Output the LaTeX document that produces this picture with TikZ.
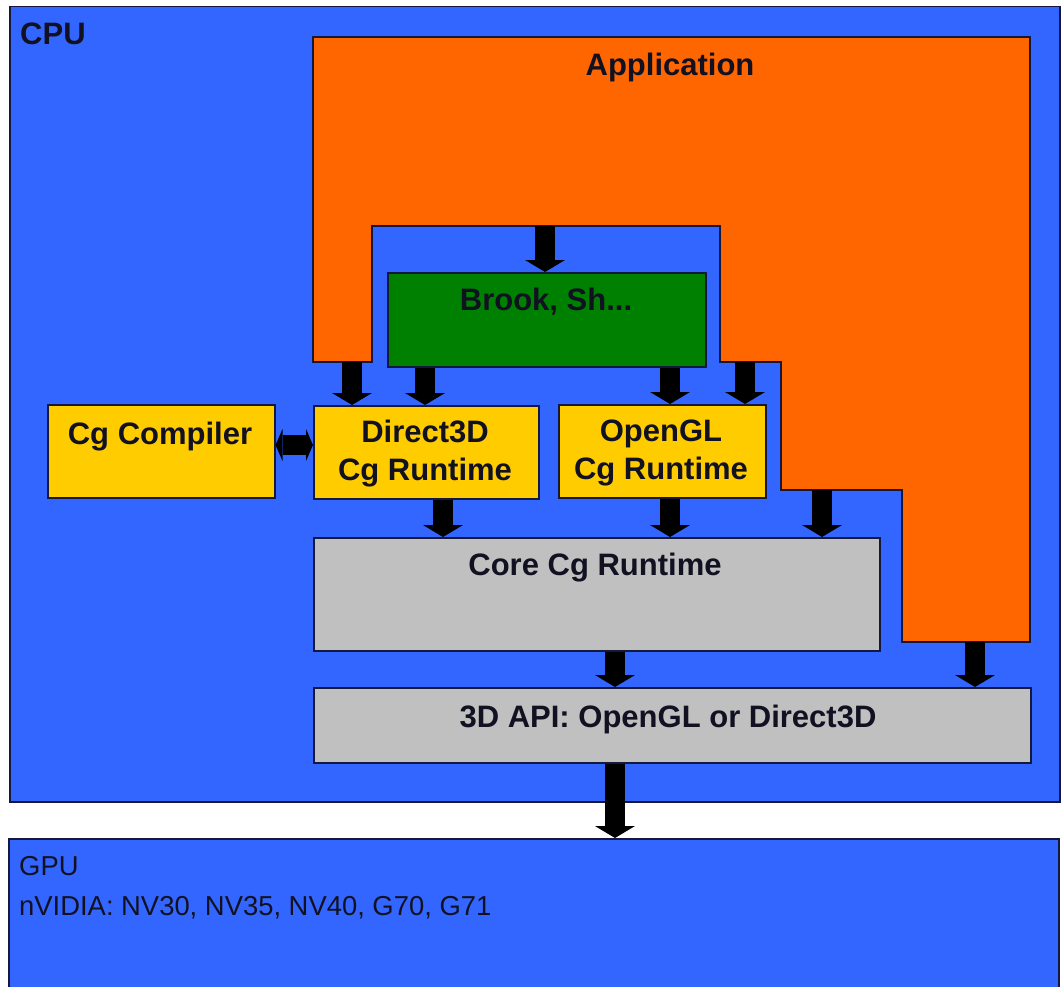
\documentclass[tikz,border=0pt]{standalone}
\usepackage{fontspec}
\setmainfont{Liberation Sans}
\usetikzlibrary{arrows.meta}
\definecolor{cpublue}{HTML}{3366FF}
\definecolor{apporange}{HTML}{FF6600}
\definecolor{brookgreen}{HTML}{008000}
\definecolor{cgyellow}{HTML}{FFCC00}
\definecolor{coregray}{HTML}{C0C0C0}
\definecolor{edge}{HTML}{14183C}
\definecolor{txt}{HTML}{111122}
\begin{document}
\begin{tikzpicture}[x=1pt,y=-1pt,
  box/.style={draw=edge, line width=1.5pt, rectangle, inner sep=0pt, anchor=north west},
  lbl/.style={font=\fontsize{31}{38}\selectfont\bfseries, text=txt, align=center, inner sep=0pt},
  plain/.style={font=\fontsize{27.4}{40}\selectfont, text=txt, inner sep=0pt},
  blk/.style={line width=20pt, black, -{Triangle[width=40pt,length=12pt,line width=0pt]}},
  dbl/.style={line width=20pt, black, {Triangle[width=32pt,length=7pt,line width=0pt]}-{Triangle[width=32pt,length=7pt,line width=0pt]}}]

\useasboundingbox (0,0) rectangle (1062,987);
\clip (0,0) rectangle (1062,987);

% CPU and GPU areas
\node[box, fill=cpublue, minimum width=1050pt, minimum height=795pt] (cpu) at (9,6) {};
\node[box, fill=cpublue, minimum width=1050pt, minimum height=200pt] (gpu) at (8,838) {};
\node[lbl, anchor=base west] (cputxt) at (20,45) {CPU};
\node[plain, anchor=base west] (gputxt) at (19,875) {GPU};
\node[plain, anchor=base west] (gpunv) at (19,915) {nVIDIA: NV30, NV35, NV40, G70, G71};

% Application
\draw[draw=edge, line width=1.5pt, fill=apporange]
  (313,37) -- (1030,37) -- (1030,642) -- (902,642) -- (902,490) -- (781,490)
  -- (781,362) -- (720,362) -- (720,226) -- (372,226) -- (372,362) -- (313,362) -- cycle;
\node[lbl, anchor=base] (apptxt) at (670,76) {Application};
\coordinate (appIn) at (545,226);
\coordinate (appL) at (352,362);
\coordinate (appR) at (745,362);
\coordinate (appS1) at (822,490);
\coordinate (appS2) at (975,642);

% Boxes
\node[box, fill=brookgreen, minimum width=318pt, minimum height=94pt] (brook) at (387,272) {};
\node[lbl, anchor=base] (brooktxt) at (546,310) {Brook, Sh...};

\node[box, fill=cgyellow, minimum width=227pt, minimum height=93pt] (comp) at (47,404) {};
\node[lbl, anchor=base] (comptxt) at (160,444) {Cg Compiler};

\node[box, fill=cgyellow, minimum width=225pt, minimum height=93pt] (d3d) at (313,405) {};
\node[lbl, anchor=north] (d3dtxt) at (425,420) {Direct3D\\Cg Runtime};

\node[box, fill=cgyellow, minimum width=207pt, minimum height=93pt] (ogl) at (558,404) {};
\node[lbl, anchor=north] (ogltxt) at (661,420) {OpenGL\\Cg Runtime};

\node[box, fill=coregray, minimum width=566pt, minimum height=113pt] (core) at (313,537) {};
\node[lbl, anchor=base] (coretxt) at (595,575) {Core Cg Runtime};

\node[box, fill=coregray, minimum width=717pt, minimum height=75pt] (api) at (313,687) {};
\node[lbl, anchor=base] (apitxt) at (668,727) {3D API: OpenGL or Direct3D};

% x positions of arrows
\coordinate (xb1) at (425,0);
\coordinate (xb2) at (670,0);
\coordinate (xc1) at (443,0);
\coordinate (xd) at (615,0);
\coordinate (ye) at (0,445);

% Arrows
\draw[blk] (appIn) -- (brook.north -| appIn);
\draw[blk] (appL) -- (d3d.north -| appL);
\draw[blk] (brook.south -| xb1) -- (d3d.north -| xb1);
\draw[blk] (brook.south -| xb2) -- (ogl.north -| xb2);
\draw[blk] (appR) -- (ogl.north -| appR);
\draw[blk] (d3d.south -| xc1) -- (core.north -| xc1);
\draw[blk] (ogl.south -| xb2) -- (core.north -| xb2);
\draw[blk] (appS1) -- (core.north -| appS1);
\draw[blk] (core.south -| xd) -- (api.north -| xd);
\draw[blk] (appS2) -- (api.north -| appS2);
\draw[blk] (api.south -| xd) -- (gpu.north -| xd);
\draw[dbl] (comp.east |- ye) -- (d3d.west |- ye);
\end{tikzpicture}
\end{document}
